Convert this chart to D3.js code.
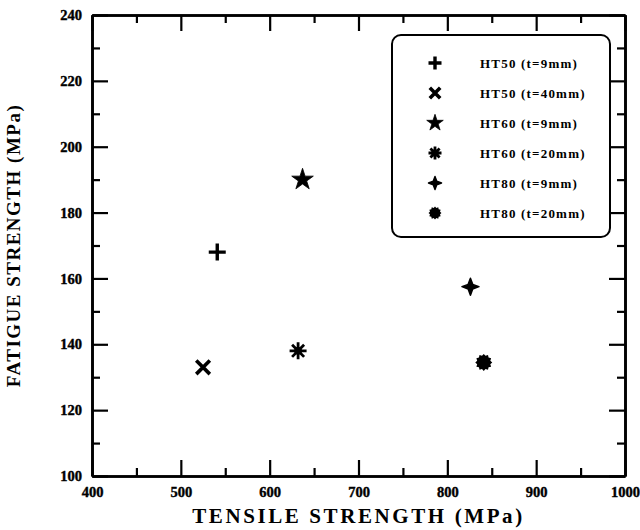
<!DOCTYPE html>
<html><head><meta charset="utf-8">
<script src="https://cdn.jsdelivr.net/npm/d3@7"></script>
<style>
html,body{margin:0;padding:0;background:#fff;}
svg text{font-family:"Liberation Serif","Times New Roman",serif !important;font-weight:bold;fill:#000;}
</style></head>
<body><svg id="c" width="640" height="530"></svg>
<script>
// ---- data ----
const seriesNames = ["HT50 (t=9mm)","HT50 (t=40mm)","HT60 (t=9mm)","HT60 (t=20mm)","HT80 (t=9mm)","HT80 (t=20mm)"];
const seriesSymbols = ["plus","cross","star","asterisk","diamond","burst"];
const tensile = [541, 525, 637, 632, 826, 841];
const fatigue = [168, 133, 190, 138, 157.5, 134.5];
const xTicks = [400,500,600,700,800,900,1000];
const xMinor = [450,550,650,750,850,950];
const yTicks = [100,120,140,160,180,200,220,240];
const yMinor = [110,130,150,170,190,210,230];
const xTitle = "TENSILE STRENGTH (MPa)";
const yTitle = "FATIGUE STRENGTH (MPa)";

const svg = d3.select("#c");
const L=92, R=625, T=15, B=476;
const x = d3.scaleLinear().domain([400,1000]).range([L,R]);
const y = d3.scaleLinear().domain([100,240]).range([B,T]);
const FONT = '"Liberation Serif","Times New Roman",serif';

function drawAxis(axisGen, transform, labels){
  const g = svg.append("g").attr("transform", transform).call(axisGen)
    .attr("font-family",FONT).attr("font-size",14.5).attr("font-weight","bold");
  g.select(".domain").attr("stroke","#000").attr("stroke-width",2.6);
  g.selectAll(".tick line").attr("stroke","#000").attr("stroke-width",2.2);
  if(!labels) g.selectAll(".tick text").remove();
  else g.selectAll(".tick text").attr("stroke","#000").attr("stroke-width",0.4);
  return g;
}
const maj=16, mnr=8;
// major
drawAxis(d3.axisBottom(x).tickValues(xTicks).tickSizeInner(-maj).tickSizeOuter(0).tickPadding(11).tickFormat(d3.format("d")), `translate(0,${B})`, true);
drawAxis(d3.axisTop(x).tickValues(xTicks).tickSizeInner(-maj).tickSizeOuter(0), `translate(0,${T})`, false);
drawAxis(d3.axisLeft(y).tickValues(yTicks).tickSizeInner(-maj).tickSizeOuter(0).tickPadding(10).tickFormat(d3.format("d")), `translate(${L},0)`, true);
drawAxis(d3.axisRight(y).tickValues(yTicks).tickSizeInner(-maj).tickSizeOuter(0), `translate(${R},0)`, false);
// minor
drawAxis(d3.axisBottom(x).tickValues(xMinor).tickSizeInner(-mnr).tickSizeOuter(0), `translate(0,${B})`, false);
drawAxis(d3.axisTop(x).tickValues(xMinor).tickSizeInner(-mnr).tickSizeOuter(0), `translate(0,${T})`, false);
drawAxis(d3.axisLeft(y).tickValues(yMinor).tickSizeInner(-mnr).tickSizeOuter(0), `translate(${L},0)`, false);
drawAxis(d3.axisRight(y).tickValues(yMinor).tickSizeInner(-mnr).tickSizeOuter(0), `translate(${R},0)`, false);

// titles
svg.append("text").attr("x",(L+R)/2).attr("y",523).attr("text-anchor","middle")
  .attr("font-size",21).attr("letter-spacing",2.6).text(xTitle);
svg.append("text").attr("transform",`translate(20,${(T+B)/2}) rotate(-90)`).attr("text-anchor","middle")
  .attr("font-size",19).attr("letter-spacing",1.5).text(yTitle);

// symbols
function drawSymbol(g, type, s){
  const h=s/2;
  if(type==="plus"){
    g.append("path").attr("d",`M${-h},0H${h}M0,${-h}V${h}`).attr("stroke","#000").attr("stroke-width",3.4).attr("fill","none");
  } else if(type==="cross"){
    const k=h*0.8;
    g.append("path").attr("d",`M${-k},${-k}L${k},${k}M${-k},${k}L${k},${-k}`).attr("stroke","#000").attr("stroke-width",3.6).attr("fill","none");
  } else if(type==="star"){
    g.append("path").attr("d",d3.symbol(d3.symbolStar, s*s*0.5)()).attr("fill","#000").attr("stroke","#000").attr("stroke-width",0.8);
  } else if(type==="asterisk"){
    let d="";
    for(let i=0;i<4;i++){const a=i*Math.PI/4; d+=`M${-h*Math.cos(a)},${-h*Math.sin(a)}L${h*Math.cos(a)},${h*Math.sin(a)}`;}
    g.append("path").attr("d",d).attr("stroke","#000").attr("stroke-width",2.8).attr("fill","none");
    g.append("circle").attr("r",h*0.45).attr("fill","#000");
  } else if(type==="diamond"){
    const r=h, ri=h*0.38;
    const pts=[];
    for(let i=0;i<8;i++){const a=i*Math.PI/4 - Math.PI/2; const rr=i%2===0?r:ri; pts.push([rr*Math.cos(a), rr*Math.sin(a)]);}
    g.append("path").attr("d","M"+pts.map(p=>p.join(",")).join("L")+"Z").attr("fill","#000").attr("stroke","#000").attr("stroke-width",1.5).attr("stroke-linejoin","round");
  } else if(type==="burst"){
    const pts=[]; const n=12;
    for(let i=0;i<2*n;i++){const a=i*Math.PI/n; const rr=i%2===0?h:h*0.8; pts.push([rr*Math.cos(a), rr*Math.sin(a)]);}
    g.append("path").attr("d","M"+pts.map(p=>p.join(",")).join("L")+"Z").attr("fill","#000");
  }
}
const pg = svg.append("g");
seriesNames.forEach((n,i)=>{
  const g = pg.append("g").attr("transform",`translate(${x(tensile[i])},${y(fatigue[i])})`);
  drawSymbol(g, seriesSymbols[i], 17);
});

// legend
const lg = svg.append("g");
lg.append("rect").attr("x",392).attr("y",35).attr("width",218).attr("height",202).attr("rx",9)
  .attr("fill","#fff").attr("stroke","#000").attr("stroke-width",2);
seriesNames.forEach((n,i)=>{
  const yy = 63 + i*30;
  const g = lg.append("g").attr("transform",`translate(435,${yy})`);
  drawSymbol(g, seriesSymbols[i], 13);
  lg.append("text").attr("x",480).attr("y",yy+4.5).attr("font-size",13).attr("letter-spacing",1.2).text(n);
});
</script></body></html>
